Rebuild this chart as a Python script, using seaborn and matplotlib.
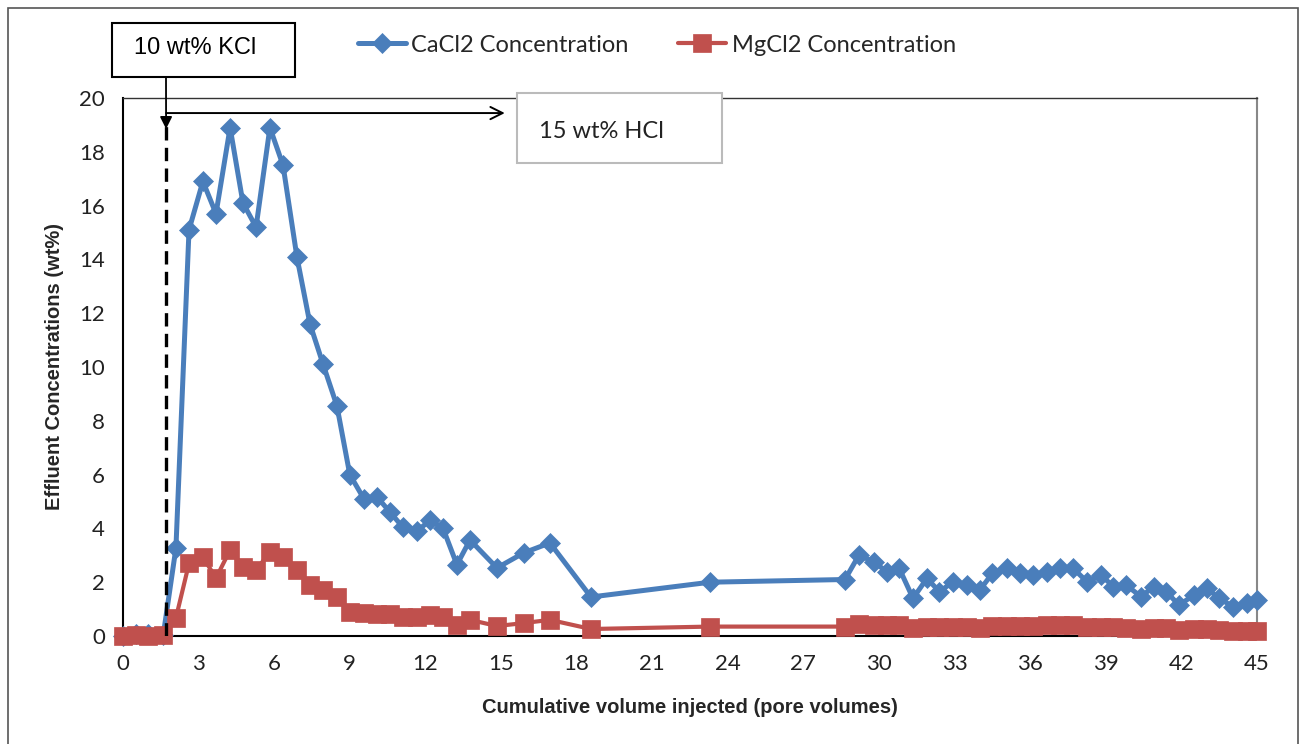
import matplotlib
matplotlib.use("Agg")
import matplotlib.pyplot as plt
import seaborn as sns
import pandas as pd
from matplotlib.patches import Rectangle

# ---- data ----
pore_volumes = [0, 0.5, 1.0, 1.6, 2.1, 2.62, 3.17, 3.69, 4.25, 4.76, 5.28, 5.83, 6.35, 6.9,
                7.42, 7.94, 8.49, 9.0, 9.56, 10.08, 10.6, 11.1, 11.67, 12.18, 12.7, 13.25,
                13.77, 14.84, 15.9, 16.94, 18.57, 23.3, 28.65, 29.2, 29.8, 30.3, 30.8, 31.35,
                31.9, 32.4, 32.95, 33.5, 34.0, 34.5, 35.07, 35.6, 36.1, 36.65, 37.2, 37.7,
                38.25, 38.8, 39.3, 39.8, 40.4, 40.9, 41.4, 41.9, 42.5, 43.0, 43.5, 44.05,
                44.6, 45.0]
cacl2 = [0, 0.08, 0.06, 0.05, 3.27, 15.1, 16.9, 15.7, 18.9, 16.1, 15.2, 18.9, 17.5, 14.1,
         11.6, 10.1, 8.55, 6.0, 5.1, 5.17, 4.6, 4.05, 3.9, 4.3, 4.0, 2.65, 3.57, 2.53, 3.09,
         3.46, 1.45, 2.0, 2.1, 3.0, 2.76, 2.39, 2.52, 1.40, 2.14, 1.65, 2.02, 1.9, 1.71,
         2.33, 2.52, 2.33, 2.27, 2.39, 2.52, 2.52, 2.02, 2.27, 1.84, 1.9, 1.46, 1.84, 1.65,
         1.15, 1.52, 1.78, 1.40, 1.09, 1.22, 1.34]
mgcl2 = [0, 0.05, 0, 0.05, 0.67, 2.7, 2.94, 2.15, 3.2, 2.57, 2.45, 3.12, 2.94, 2.45, 1.9,
         1.71, 1.46, 0.9, 0.85, 0.8, 0.8, 0.7, 0.7, 0.77, 0.7, 0.4, 0.6, 0.37, 0.48, 0.6,
         0.26, 0.35, 0.35, 0.45, 0.42, 0.4, 0.4, 0.3, 0.35, 0.32, 0.33, 0.35, 0.3, 0.38,
         0.38, 0.38, 0.38, 0.4, 0.42, 0.42, 0.35, 0.33, 0.32, 0.3, 0.25, 0.28, 0.28, 0.22,
         0.25, 0.25, 0.22, 0.2, 0.2, 0.2]
x_ticks = list(range(0, 46, 3))
y_ticks = list(range(0, 21, 2))
series_labels = ["CaCl2 Concentration", "MgCl2 Concentration"]
kcl_label = "10 wt% KCl"
hcl_label = "15 wt% HCl"
kcl_switch = 1.71
hcl_arrow_end = 15.15
arrow_y = 19.44

df = pd.DataFrame({"pv": pore_volumes, "ca": cacl2, "mg": mgcl2})

sns.set_style("white")
plt.rcParams["font.family"] = ["Lato", "DejaVu Sans"]

W, H = 1302, 744
fig = plt.figure(figsize=(W / 100, H / 100), dpi=100)
ax = fig.add_axes([123 / W, 1 - 636 / H, (1257 - 123) / W, (636 - 98) / H])

blue = "#4A7EBB"
red = "#C0504D"

sns.lineplot(data=df, x="pv", y="mg", sort=False, ax=ax, color=red, linewidth=3.0,
             marker="s", markersize=12.5, markeredgecolor=red, markeredgewidth=0.5,
             label=series_labels[1], zorder=4, clip_on=False)
sns.lineplot(data=df, x="pv", y="ca", sort=False, ax=ax, color=blue, linewidth=3.6,
             marker="D", markersize=10.5, markeredgecolor=blue, markeredgewidth=0.5,
             label=series_labels[0], zorder=3, clip_on=False)

ax.set_xlim(0, 45)
ax.set_ylim(0, 20)
ax.set_xticks(x_ticks)
ax.set_yticks(y_ticks)
ax.tick_params(axis="both", direction="out", length=5, width=1.2, colors="#000000",
               labelsize=16, labelcolor="#222222")
ax.tick_params(axis="x", pad=8)
ax.tick_params(axis="y", pad=8)
for s in ["left", "bottom"]:
    ax.spines[s].set_color("black")
    ax.spines[s].set_linewidth(1.5)
ax.spines["top"].set_color("#333333")
ax.spines["top"].set_linewidth(1.0)
ax.spines["right"].set_color("#888888")
ax.spines["right"].set_linewidth(1.5)

ax.set_xlabel("Cumulative volume injected (pore volumes)", fontsize=14.5, fontweight="bold",
              family=["Liberation Sans", "DejaVu Sans"], labelpad=17)
ax.set_ylabel("Effluent Concentrations (wt%)", fontsize=14.5, fontweight="bold",
              family=["Liberation Sans", "DejaVu Sans"], labelpad=11)

# legend
h, l = ax.get_legend_handles_labels()
ax.get_legend().remove()
order = [l.index(series_labels[0]), l.index(series_labels[1])]
fig.legend([h[i] for i in order], [l[i] for i in order], loc="center",
           bbox_to_anchor=(657 / W, 1 - 45 / H), ncol=2, frameon=False,
           fontsize=17, handlelength=2.0, columnspacing=2.1, handletextpad=0.25)

# dashed switch line
ax.plot([kcl_switch, kcl_switch], [0, 19.1], ls=(0, (4, 2.2)), color="black", lw=2.4,
        zorder=5)
# down arrow from KCl box
ax.annotate("", xy=(kcl_switch, 18.85), xycoords="data",
            xytext=(166 / W, 1 - 77 / H), textcoords="figure fraction",
            arrowprops=dict(arrowstyle="-|>", color="black", lw=1.3,
                            mutation_scale=18, shrinkA=0, shrinkB=0),
            annotation_clip=False, zorder=6)
# horizontal HCl arrow
ax.annotate("", xy=(hcl_arrow_end, arrow_y), xytext=(kcl_switch, arrow_y),
            arrowprops=dict(arrowstyle="->", color="black", lw=1.4,
                            mutation_scale=22, shrinkA=0, shrinkB=0), zorder=6)

# boxes
fig.patches.append(Rectangle((112 / W, 1 - 77 / H), (295 - 112) / W, (77 - 23) / H,
                             transform=fig.transFigure, facecolor="white",
                             edgecolor="black", lw=1.5, zorder=10))
fig.text(195 / W, 1 - 48 / H, kcl_label, ha="center", va="center", fontsize=17,
         family=["Liberation Sans", "DejaVu Sans"], color="black", zorder=11)
fig.patches.append(Rectangle((517 / W, 1 - 163 / H), (722 - 517) / W, (163 - 93) / H,
                             transform=fig.transFigure, facecolor="white",
                             edgecolor="#BBBBBB", lw=1.5, zorder=10))
fig.text(601 / W, 1 - 132 / H, hcl_label, ha="center", va="center", fontsize=17,
         color="#222222", zorder=11)

# outer frame
fig.patches.append(Rectangle((8 / W, -0.01), (1298 - 8) / W, 1 - 8 / H + 0.01,
                             transform=fig.transFigure, facecolor="none",
                             edgecolor="#555555", lw=1.2, zorder=0))

fig.savefig("out.png", dpi=100)
